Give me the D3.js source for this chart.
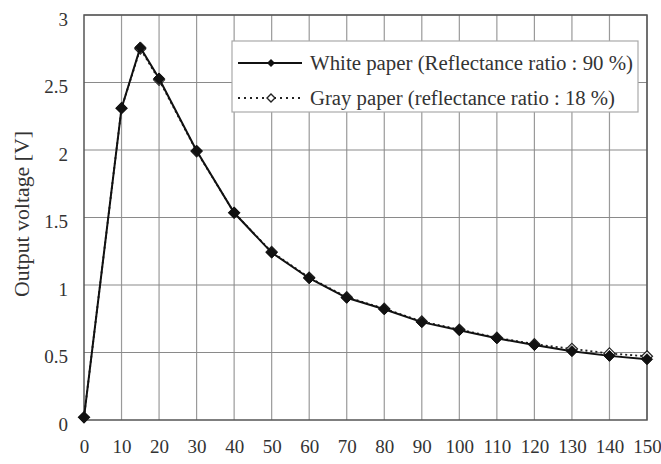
<!DOCTYPE html>
<html><head><meta charset="utf-8">
<script src="https://cdn.jsdelivr.net/npm/d3@7"></script>
<style>body{margin:0;background:#fff}svg{display:block}text{font-family:"Liberation Serif","DejaVu Serif",serif;fill:#333}</style>
</head><body><svg id="c" width="661" height="464"></svg>
<script>
const xValues = [0,10,15,20,30,40,50,60,70,80,90,100,110,120,130,140,150];
const whitePaper = [0.02,2.31,2.76,2.53,1.995,1.535,1.24,1.05,0.905,0.82,0.725,0.665,0.605,0.555,0.51,0.475,0.45];
const grayPaper  = [0.02,2.31,2.75,2.52,1.99,1.535,1.245,1.055,0.91,0.825,0.73,0.67,0.61,0.562,0.527,0.493,0.472];
const xTicks = [0,10,20,30,40,50,60,70,80,90,100,110,120,130,140,150];
const yTicks = [0,0.5,1,1.5,2,2.5,3];
const seriesNames = ["White paper (Reflectance ratio : 90 %)","Gray paper (reflectance ratio : 18 %)"];
const yTitle = "Output voltage [V]";

const svg = d3.select("#c");
const L=84,R=647,T=15,B=420;
const x = d3.scaleLinear().domain([0,150]).range([L,R]);
const y = d3.scaleLinear().domain([0,3]).range([B,T]);

// grid
svg.append("g").selectAll("line").data(xTicks.slice(1)).join("line")
  .attr("x1",d=>x(d)).attr("x2",d=>x(d)).attr("y1",T).attr("y2",B)
  .attr("stroke","#9a9a9a").attr("stroke-width",1.2);
svg.append("g").selectAll("line").data(yTicks.slice(1)).join("line")
  .attr("x1",L).attr("x2",R).attr("y1",d=>y(d)).attr("y2",d=>y(d))
  .attr("stroke","#8a8a8a").attr("stroke-width",1.2);
svg.append("rect").attr("x",L).attr("y",T).attr("width",R-L).attr("height",B-T)
  .attr("fill","none").attr("stroke","#555").attr("stroke-width",1.5);

// axes labels
const xa = d3.axisBottom(x).tickValues(xTicks).tickSize(0).tickPadding(20);
svg.append("g").attr("transform",`translate(0,${B})`).call(xa)
  .call(g=>g.select(".domain").remove())
  .selectAll("text").attr("font-size",19).style("font-family","'Liberation Serif',serif").attr("fill","#333");
const ya = d3.axisLeft(y).tickValues(yTicks).tickSize(0).tickPadding(16).tickFormat(d3.format("~g"));
svg.append("g").attr("transform",`translate(${L},0)`).call(ya)
  .call(g=>g.select(".domain").remove())
  .selectAll("text").attr("font-size",19).attr("dy","0.55em").style("font-family","'Liberation Serif',serif").attr("fill","#333");

svg.append("text").attr("transform",`translate(29,214) rotate(-90)`).attr("text-anchor","middle")
  .attr("font-size",20).attr("textLength",166).attr("lengthAdjust","spacingAndGlyphs").text(yTitle);

const line = d3.line().x((d,i)=>x(xValues[i])).y(d=>y(d));
const r = 5.5;
const diamond = `M0,${-r}L${r},0L0,${r}L${-r},0Z`;

// gray series
svg.append("path").datum(grayPaper).attr("d",line).attr("fill","none")
  .attr("stroke","#222").attr("stroke-width",1.8).attr("stroke-dasharray","2,3");
svg.append("g").selectAll("path").data(grayPaper).join("path")
  .attr("d",diamond).attr("transform",(d,i)=>`translate(${x(xValues[i])},${y(d)})`)
  .attr("fill","#fff").attr("stroke","#222").attr("stroke-width",1.2);
// white series
svg.append("path").datum(whitePaper).attr("d",line).attr("fill","none")
  .attr("stroke","#111").attr("stroke-width",2);
svg.append("g").selectAll("path").data(whitePaper).join("path")
  .attr("d",diamond).attr("transform",(d,i)=>`translate(${x(xValues[i])},${y(d)})`)
  .attr("fill","#111").attr("stroke","#111").attr("stroke-width",1);

// legend
const lg = svg.append("g");
lg.append("rect").attr("x",232).attr("y",41).attr("width",406).attr("height",71)
  .attr("fill","#fff").attr("stroke","#aaa").attr("stroke-width",1.2);
const rows=[63,98];
const lens=[323,305];
lg.append("line").attr("x1",238).attr("x2",302).attr("y1",rows[0]).attr("y2",rows[0]).attr("stroke","#111").attr("stroke-width",2);
lg.append("path").attr("d",`M0,-4L4,0L0,4L-4,0Z`).attr("transform",`translate(271,${rows[0]})`).attr("fill","#111");
lg.append("line").attr("x1",238).attr("x2",302).attr("y1",rows[1]).attr("y2",rows[1]).attr("stroke","#222").attr("stroke-width",1.8).attr("stroke-dasharray","2,4");
lg.append("path").attr("d",`M0,-4L4,0L0,4L-4,0Z`).attr("transform",`translate(271,${rows[1]})`).attr("fill","#fff").attr("stroke","#222").attr("stroke-width",1.4);
seriesNames.forEach((s,i)=>lg.append("text").attr("x",310).attr("y",rows[i]).attr("dy","0.35em").attr("font-size",20)
  .attr("textLength",lens[i]).attr("lengthAdjust","spacingAndGlyphs").text(s));
</script></body></html>
